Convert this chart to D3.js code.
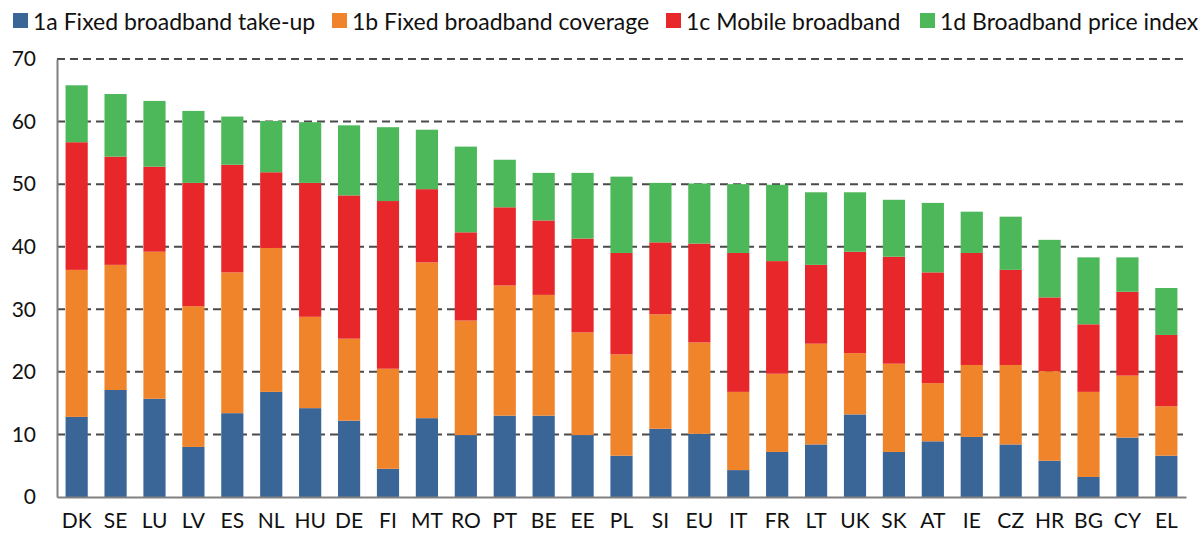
<!DOCTYPE html>
<html>
<head>
<meta charset="utf-8">
<script src="https://cdn.jsdelivr.net/npm/d3@7"></script>
<style>
  body { margin: 0; background: #fff; }
  text { font-family: Lato, "Open Sans", sans-serif; fill: #111; }
</style>
</head>
<body>
<div id="chartDiv"></div>
<script>
// categories and series
var countries = ["DK","SE","LU","LV","ES","NL","HU","DE","FI","MT","RO","PT","BE","EE",
  "PL","SI","EU","IT","FR","LT","UK","SK","AT","IE","CZ","HR","BG","CY","EL"];
var takeUp   = [12.8,17.1,15.7,8.0,13.4,16.8,14.2,12.2,4.5,12.6,9.9,13.0,13.0,9.9,
  6.6,10.9,10.1,4.3,7.2,8.4,13.2,7.2,8.9,9.6,8.4,5.8,3.2,9.5,6.6];
var coverage = [23.5,20.0,23.5,22.5,22.5,23.0,14.6,13.1,16.0,24.9,18.3,20.8,19.3,16.4,
  16.2,18.3,14.6,12.5,12.5,16.1,9.8,14.1,9.3,11.5,12.7,14.3,13.6,9.9,7.9];
var mobile   = [20.4,17.3,13.6,19.7,17.2,12.1,21.4,22.9,26.8,11.7,14.1,12.5,11.9,15.0,
  16.2,11.5,15.8,22.2,18.0,12.6,16.2,17.1,17.7,17.9,15.2,11.8,10.8,13.4,11.4];
var priceIdx = [9.1,10.0,10.5,11.5,7.7,8.2,9.7,11.2,11.8,9.5,13.7,7.6,7.6,10.5,
  12.2,9.5,9.6,11.0,12.2,11.6,9.5,9.1,11.1,6.6,8.5,9.2,10.7,5.5,7.5];
var seriesNames = ["1a Fixed broadband take-up","1b Fixed broadband coverage",
  "1c Mobile broadband","1d Broadband price index"];
var seriesColors = ["#3a6597","#f0842b","#e8272b","#4cb85a"];
var yTicks = [0,10,20,30,40,50,60,70];

var width = 1201, height = 542;
var margin = {top: 59, right: 15, bottom: 45, left: 57};
var plotW = width - margin.left - margin.right,
    plotH = height - margin.top - margin.bottom;

var data = countries.map(function(c, i) {
  return {country: c, s0: takeUp[i], s1: coverage[i], s2: mobile[i], s3: priceIdx[i]};
});
var keys = ["s0","s1","s2","s3"];
var stacked = d3.stack().keys(keys)(data);

var svg = d3.select("#chartDiv").append("svg")
  .attr("width", width).attr("height", height);

var g = svg.append("g")
  .attr("transform", "translate(" + margin.left + "," + margin.top + ")");

var xScale = d3.scaleBand().domain(countries).range([0, plotW]).paddingInner(0.43).paddingOuter(0.22);
var yScale = d3.scaleLinear().domain([0, 70]).range([plotH, 0]);

// dashed gridlines
g.selectAll(".grid").data(yTicks.filter(function(d){ return d > 0; }))
  .enter().append("line")
  .attr("x1", 0).attr("x2", plotW)
  .attr("y1", function(d){ return yScale(d); })
  .attr("y2", function(d){ return yScale(d); })
  .attr("stroke", "#4a4a4a").attr("stroke-width", 2)
  .attr("stroke-dasharray", "8,5");

// bars
g.selectAll(".layer").data(stacked).enter().append("g")
  .attr("fill", function(d, i){ return seriesColors[i]; })
  .selectAll("rect").data(function(d){ return d; })
  .enter().append("rect")
  .attr("x", function(d){ return xScale(d.data.country); })
  .attr("y", function(d){ return yScale(d[1]); })
  .attr("width", xScale.bandwidth())
  .attr("height", function(d){ return yScale(d[0]) - yScale(d[1]); });

// axes
var yAxis = d3.axisLeft(yScale).tickValues(yTicks).tickSize(0).tickPadding(21);
var yG = g.append("g").call(yAxis);
yG.select(".domain").attr("stroke", "#808080").attr("stroke-width", 2);
yG.selectAll("text").style("font-size", "21px").attr("fill", "#111");

var xAxis = d3.axisBottom(xScale).tickSize(0).tickPadding(16);
var xG = g.append("g").attr("transform", "translate(0," + plotH + ")").call(xAxis);
xG.select(".domain").attr("stroke", "#808080").attr("stroke-width", 2);
xG.selectAll("text").style("font-size", "21px").attr("fill", "#111");

// legend
var legendX = [13, 332, 666, 920];
var legend = svg.append("g").selectAll("g").data(seriesNames).enter().append("g")
  .attr("transform", function(d, i){ return "translate(" + legendX[i] + ",13)"; });
legend.append("rect")
  .attr("width", 15).attr("height", 15)
  .attr("fill", function(d, i){ return seriesColors[i]; });
legend.append("text")
  .attr("x", 20).attr("y", 8)
  .attr("dominant-baseline", "central")
  .style("font-size", "23px")
  .text(function(d){ return d; });
</script>
</body>
</html>
